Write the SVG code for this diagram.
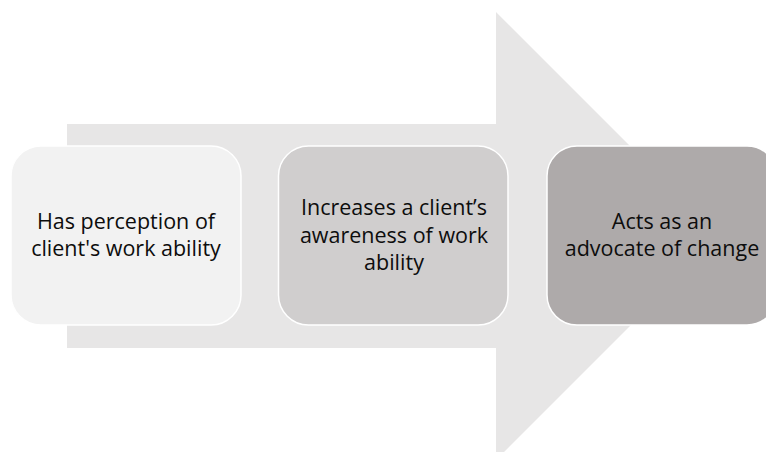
<svg xmlns="http://www.w3.org/2000/svg" width="766" height="452" viewBox="0 0 766 452">
  <style>
    .box { stroke: #ffffff; stroke-width: 1.5; }
    .label { font-family: "Open Sans", "Liberation Sans", sans-serif; font-size: 21.5px; fill: #0d0d0d; text-anchor: middle; }
  </style>
  <rect width="766" height="452" fill="#ffffff"/>

  <!-- background process arrow -->
  <g id="connectors">
    <path d="M67,124 H496 V12 L720,236 L496,460 V348 H67 Z" fill="#e7e6e6"/>
  </g>

  <g id="step1">
    <rect class="box" x="11" y="146" width="230" height="179" rx="30" ry="30" fill="#f2f2f2"/>
    <text class="label" x="126" y="229">Has perception of</text>
    <text class="label" x="126" y="256">client's work ability</text>
  </g>

  <g id="step2">
    <rect class="box" x="278.5" y="146" width="229.5" height="179" rx="30" ry="30" fill="#d0cece"/>
    <text class="label" x="394" y="215">Increases a client’s</text>
    <text class="label" x="394" y="242.5">awareness of work</text>
    <text class="label" x="394" y="270">ability</text>
  </g>

  <g id="step3">
    <rect class="box" x="547" y="146" width="230" height="179" rx="30" ry="30" fill="#aeaaaa"/>
    <text class="label" x="662" y="229">Acts as an</text>
    <text class="label" x="662" y="256">advocate of change</text>
  </g>
</svg>
